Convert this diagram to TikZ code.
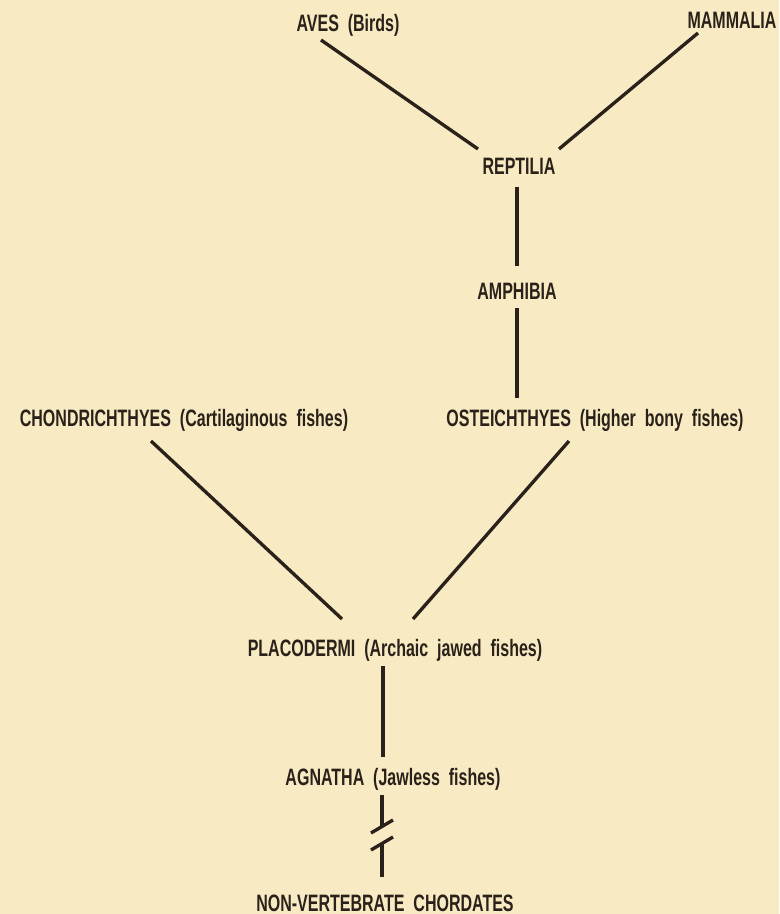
\documentclass[tikz,border=0pt]{standalone}
\usepackage{fontspec}
\setmainfont{Liberation Sans}[FakeStretch=0.675,WordSpace=2]
\usepackage{tikz}

\definecolor{paper}{RGB}{248,234,194}
\definecolor{ink}{RGB}{42,34,26}
\tikzset{
  taxon/.style={font=\bfseries\fontsize{13.5}{14}\selectfont, text=ink,
    inner sep=0pt, text height=9.7pt, text depth=0pt},
  branch/.style={draw=ink, line width=1.9pt}
}

\begin{document}
\begin{tikzpicture}[x=0.02cm,y=-0.02cm]
\fill[paper] (0,0) rectangle (779,914);
\useasboundingbox (0,0) rectangle (779,914);

% classes
\node[taxon] (aves) at (348,23) {AVES (Birds)};
\node[taxon] (mammalia) at (732,20) {MAMMALIA};
\node[taxon] (reptilia) at (519,166) {REPTILIA};
\node[taxon] (amphibia) at (517,291) {AMPHIBIA};
\node[taxon] (chondr) at (184,418) {CHONDRICHTHYES (Cartilaginous fishes)};
\node[taxon] (osteich) at (595,418) {OSTEICHTHYES (Higher bony fishes)};
\node[taxon] (placo) at (395,648) {PLACODERMI (Archaic jawed fishes)};
\node[taxon] (agnatha) at (393,777) {AGNATHA (Jawless fishes)};
\node[taxon] (nonvert) at (385,903) {NON-VERTEBRATE CHORDATES};

% branches
\draw[branch] ([shift={(-27,17)}]aves.center) -- ([shift={(-41,-17)}]reptilia.center);
\draw[branch] ([shift={(-34,13)}]mammalia.center) -- ([shift={(40,-17)}]reptilia.center);
\draw[branch] ([shift={(-2,21)}]reptilia.center) -- ([shift={(0,-25)}]amphibia.center);
\draw[branch] ([shift={(0,17)}]amphibia.center) -- ([shift={(-78,-20)}]osteich.center);
\draw[branch] ([shift={(-33,23)}]chondr.center) -- ([shift={(-53,-29)}]placo.center);
\draw[branch] ([shift={(-26,23)}]osteich.center) -- ([shift={(18,-29)}]placo.center);
\draw[branch] ([shift={(-12,18)}]placo.center) -- ([shift={(-10,-20)}]agnatha.center);

% broken stem
\coordinate (brkA) at (382,826);
\coordinate (brkB) at (382,843);
\draw[branch] ([shift={(-11,18)}]agnatha.center) -- (brkA);
\draw[branch] ([shift={(-11,7)}]brkA) -- ([shift={(11,-6)}]brkA);
\draw[branch] ([shift={(-11,7)}]brkB) -- ([shift={(11,-6)}]brkB);
\draw[branch] (brkB) -- ([shift={(-3,-26)}]nonvert.center);

\end{tikzpicture}
\end{document}
